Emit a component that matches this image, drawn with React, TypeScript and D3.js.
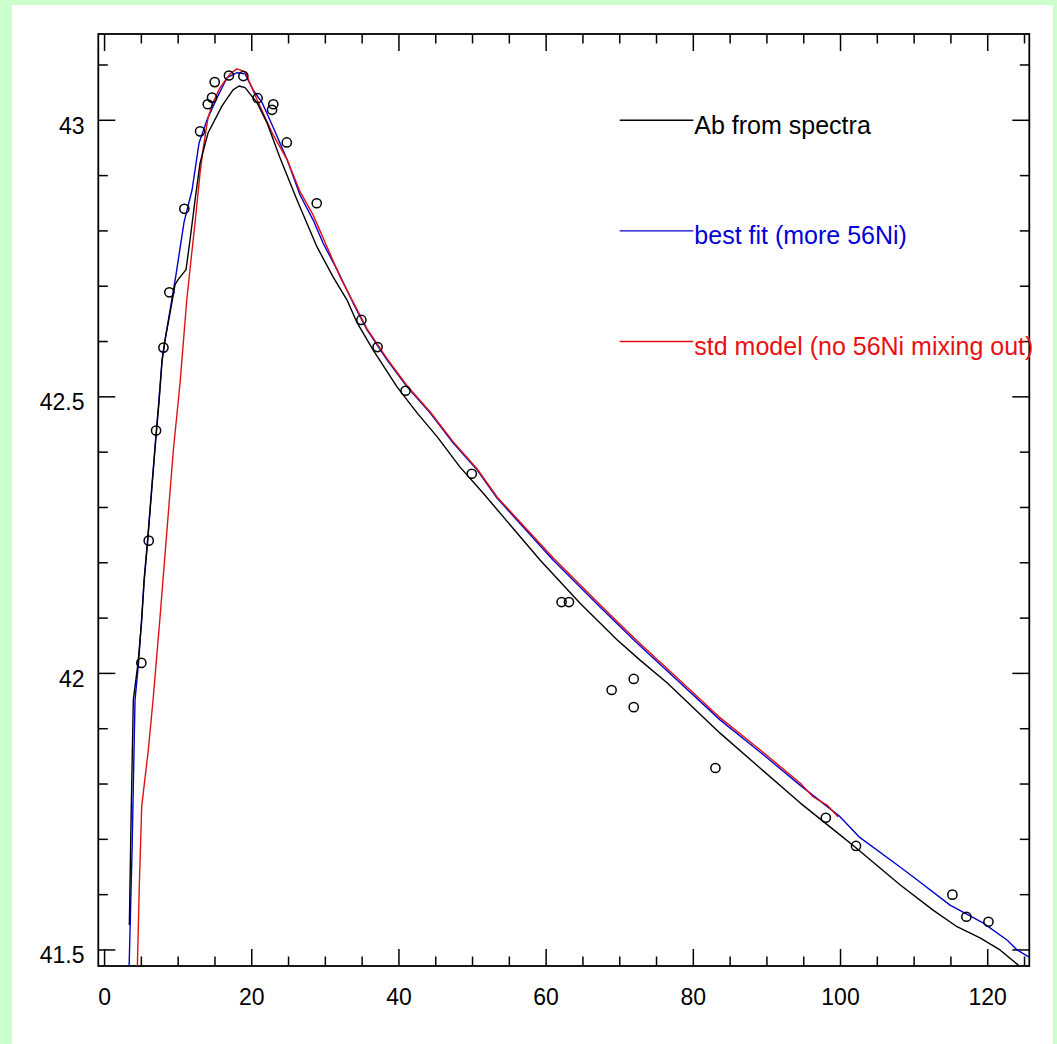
import React from "react";
import * as d3 from "d3";

// Observed bolometric light curve (days, log L)
const obsDay = [5, 6, 7, 8, 8.8, 10.84, 12.98, 14.02, 14.6, 14.97, 16.9, 18.86, 20.8, 22.76, 22.93, 24.76, 28.83, 34.9, 37.1, 40.9, 49.9, 62.1, 63.1, 68.9, 71.9, 71.9, 83.0, 98.0, 102.1, 115.2, 117.1, 120.1];
const obsLum = [42.019, 42.24, 42.439, 42.589, 42.689, 42.84, 42.98, 43.029, 43.041, 43.069, 43.081, 43.08, 43.04, 43.019, 43.029, 42.96, 42.85, 42.639, 42.59, 42.511, 42.361, 42.129, 42.129, 41.97, 41.99, 41.939, 41.829, 41.739, 41.688, 41.6, 41.56, 41.551];

// "Ab from spectra" model (black)
const abDay = [3.37, 3.6, 3.91, 4.55, 5.03, 5.37, 5.84, 6.39, 6.93, 7.4, 7.81, 8.22, 8.9, 9.58, 9.99, 11.07, 11.62, 12.3, 12.98, 14.06, 15.96, 17.46, 18.27, 19.09, 20.72, 22.08, 23.85, 26.15, 28.87, 31.05, 32.95, 34.31, 36.48, 39.74, 42.46, 45.18, 48.3, 51.43, 59.17, 64.61, 69.63, 72.76, 76.43, 83.63, 89.06, 94.5, 99.93, 101.97, 108.08, 112.57, 115.83, 118.95, 121.67, 124.12, 124.6];
const abLum = [41.545, 41.735, 41.952, 42.019, 42.093, 42.165, 42.236, 42.329, 42.418, 42.491, 42.564, 42.603, 42.652, 42.703, 42.712, 42.73, 42.784, 42.856, 42.923, 42.977, 43.026, 43.055, 43.062, 43.059, 43.032, 42.995, 42.932, 42.856, 42.771, 42.717, 42.675, 42.634, 42.585, 42.518, 42.471, 42.428, 42.373, 42.326, 42.205, 42.127, 42.061, 42.024, 41.983, 41.892, 41.829, 41.766, 41.708, 41.686, 41.618, 41.572, 41.542, 41.522, 41.5, 41.473, 41.465];

// "best fit (more 56Ni)" model (blue)
const fitDay = [3.3, 3.74, 3.87, 4.14, 4.62, 5.03, 5.37, 5.84, 6.39, 6.93, 7.4, 7.81, 8.22, 8.9, 9.71, 10.8, 11.89, 12.84, 13.93, 15.29, 16.64, 18.0, 19.09, 20.18, 21.4, 22.89, 24.8, 26.56, 28.33, 29.69, 31.59, 33.76, 35.67, 38.38, 41.1, 44.23, 47.35, 50.61, 53.33, 60.94, 67.32, 72.35, 78.19, 83.63, 89.06, 94.5, 99.93, 102.65, 107.68, 110.39, 114.88, 119.36, 122.62, 124.0, 125.61];
const fitLum = [41.45, 41.681, 41.771, 41.952, 42.019, 42.097, 42.169, 42.24, 42.332, 42.422, 42.495, 42.567, 42.603, 42.657, 42.721, 42.816, 42.874, 42.959, 43.001, 43.041, 43.077, 43.086, 43.084, 43.055, 43.032, 42.988, 42.929, 42.865, 42.82, 42.778, 42.73, 42.67, 42.621, 42.567, 42.518, 42.471, 42.417, 42.368, 42.317, 42.205, 42.12, 42.055, 41.983, 41.916, 41.858, 41.798, 41.741, 41.703, 41.654, 41.627, 41.581, 41.549, 41.518, 41.5, 41.487];

// "std model (no 56Ni mixing out)" (red)
const stdDay = [4.42, 4.73, 5.05, 5.95, 6.59, 7.54, 8.45, 9.35, 10.26, 11.17, 11.75, 12.3, 12.98, 13.38, 14.06, 14.74, 15.69, 17.05, 18.0, 19.09, 20.72, 22.89, 24.8, 26.56, 28.33, 32.0, 33.76, 35.67, 38.38, 41.1, 44.23, 47.35, 50.61, 53.33, 60.94, 67.32, 72.35, 78.19, 83.63, 89.06, 94.5, 96.26, 98.17, 99.66];
const stdLum = [41.45, 41.62, 41.76, 41.862, 41.952, 42.102, 42.254, 42.404, 42.525, 42.675, 42.748, 42.815, 42.905, 42.947, 43.005, 43.032, 43.059, 43.084, 43.093, 43.088, 43.037, 42.974, 42.929, 42.871, 42.829, 42.717, 42.672, 42.623, 42.569, 42.52, 42.473, 42.419, 42.37, 42.319, 42.209, 42.124, 42.059, 41.987, 41.92, 41.862, 41.802, 41.777, 41.762, 41.741];

const xMajorTicks = [0, 20, 40, 60, 80, 100, 120];
const yMajorTicks = [41.5, 42, 42.5, 43];
const yTickLabels = ["41.5", "42", "42.5", "43"];

const legendLabels = ["Ab from spectra", "best fit (more 56Ni)", "std model (no 56Ni mixing out)"];
const legendColors = ["#000000", "#0000d0", "#e01010"];
const legendTextColors = ["#000000", "#0000d8", "#e81010"];
const legendLum = [43.0, 42.8, 42.6];

const FONT = "'Liberation Sans', Arial, Helvetica, sans-serif";

export default function App() {
  const W = 1057;
  const H = 1044;
  const left = 98.3, right = 1029.3, top = 34, bottom = 966;

  const x = d3.scaleLinear().domain([-0.85, 125.65]).range([left, right]);
  const y = d3.scaleLinear().domain([41.471, 43.156]).range([bottom, top]);

  const line = d3
    .line<[number, number]>()
    .x((d) => x(d[0]))
    .y((d) => y(d[1]));

  const series = [
    { days: fitDay, lum: fitLum, color: legendColors[1] },
    { days: stdDay, lum: stdLum, color: legendColors[2] },
    { days: abDay, lum: abLum, color: legendColors[0] },
  ];

  const xMinor = d3.range(0, 126, 5);
  const yMinor = d3.range(41.5, 43.11, 0.1);

  const MAJ = 17;
  const MIN = 9.5;
  const axisW = 1.8;

  return (
    <svg
      width={W}
      height={H}
      style={{ position: "absolute", left: 0, top: 0, display: "block" }}
    >
      <rect x={0} y={0} width={W} height={H} fill="#ccffcc" />
      <rect x={12} y={5} width={1041} height={H - 5} fill="#ffffff" />
      <defs>
        <clipPath id="plotclip">
          <rect x={left} y={top} width={right - left} height={bottom - top} />
        </clipPath>
      </defs>

      {xMinor.map((v) => {
        const isMaj = xMajorTicks.includes(Math.round(v));
        const L = isMaj ? MAJ : MIN;
        return (
          <g key={"xt" + v} stroke="#000" strokeWidth={1.5}>
            <line x1={x(v)} x2={x(v)} y1={bottom} y2={bottom - L} />
            <line x1={x(v)} x2={x(v)} y1={top} y2={top + L} />
          </g>
        );
      })}
      {yMinor.map((v) => {
        const isMaj = yMajorTicks.some((t) => Math.abs(t - v) < 1e-6);
        const L = isMaj ? MAJ : MIN;
        return (
          <g key={"yt" + v.toFixed(2)} stroke="#000" strokeWidth={1.5}>
            <line x1={left} x2={left + L} y1={y(v)} y2={y(v)} />
            <line x1={right} x2={right - L} y1={y(v)} y2={y(v)} />
          </g>
        );
      })}

      <rect
        x={left}
        y={top}
        width={right - left}
        height={bottom - top}
        fill="none"
        stroke="#000"
        strokeWidth={axisW}
      />

      {xMajorTicks.map((v) => (
        <text
          key={"xl" + v}
          x={x(v)}
          y={1004.5}
          textAnchor="middle"
          fontFamily={FONT}
          fontSize={23}
          fill="#000"
        >
          {String(v)}
        </text>
      ))}
      {yMajorTicks.map((v, i) => (
        <text
          key={"yl" + v}
          x={84.5}
          y={y(v) + 13.5}
          textAnchor="end"
          fontFamily={FONT}
          fontSize={23}
          fill="#000"
        >
          {yTickLabels[i]}
        </text>
      ))}

      <g clipPath="url(#plotclip)">
        {series.map((s, i) => (
          <path
            key={"s" + i}
            d={line(s.days.map((d, j) => [d, s.lum[j]] as [number, number])) || ""}
            fill="none"
            stroke={s.color}
            strokeWidth={1.4}
            strokeLinejoin="round"
          />
        ))}
        {obsDay.map((d, i) => (
          <circle
            key={"o" + i}
            cx={x(d)}
            cy={y(obsLum[i])}
            r={4.6}
            fill="none"
            stroke="#000"
            strokeWidth={1.5}
          />
        ))}
      </g>

      {legendLabels.map((lab, i) => (
        <g key={"lg" + i}>
          <line
            x1={x(70)}
            x2={x(80)}
            y1={y(legendLum[i])}
            y2={y(legendLum[i])}
            stroke={legendColors[i]}
            strokeWidth={1.4}
          />
          <text
            x={x(80) + 1}
            y={y(legendLum[i]) + 13.3}
            fontFamily={FONT}
            fontSize={25}
            fill={legendTextColors[i]}
          >
            {lab}
          </text>
        </g>
      ))}
    </svg>
  );
}
